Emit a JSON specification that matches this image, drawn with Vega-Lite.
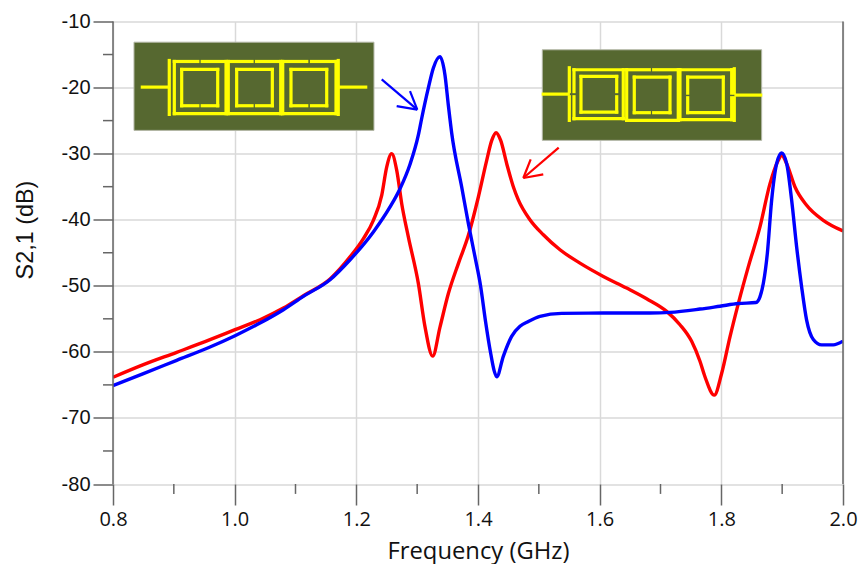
{"$schema":"https://vega.github.io/schema/vega-lite/v6.json","width":730,"height":462.5,"autosize":"none","padding":{"left":113,"top":21.5,"right":20,"bottom":80},"background":"white","config":{"view":{"stroke":null}},
"datasets":{
"red":[{"f":0.8,"s":-63.85},{"f":0.85,"s":-61.94},{"f":0.9047,"s":-60.07},{"f":0.9595,"s":-58.16},{"f":1.0006,"s":-56.64},{"f":1.0417,"s":-55.13},{"f":1.0801,"s":-53.37},{"f":1.113,"s":-51.5},{"f":1.1568,"s":-48.98},{"f":1.1896,"s":-45.63},{"f":1.2116,"s":-42.86},{"f":1.228,"s":-40.09},{"f":1.2417,"s":-36.31},{"f":1.2499,"s":-32.03},{"f":1.2581,"s":-30},{"f":1.2664,"s":-32.53},{"f":1.2746,"s":-37.57},{"f":1.2855,"s":-42.61},{"f":1.302,"s":-49.67},{"f":1.3129,"s":-56.22},{"f":1.3255,"s":-60.65},{"f":1.3376,"s":-56.22},{"f":1.3513,"s":-51.18},{"f":1.3677,"s":-46.64},{"f":1.3842,"s":-42.36},{"f":1.4006,"s":-36.56},{"f":1.4143,"s":-31.02},{"f":1.4226,"s":-28},{"f":1.4297,"s":-26.83},{"f":1.4373,"s":-28},{"f":1.4472,"s":-31.52},{"f":1.4582,"s":-35.05},{"f":1.4663,"s":-36.99},{"f":1.4854,"s":-40},{"f":1.5074,"s":-42.28},{"f":1.5348,"s":-44.55},{"f":1.5676,"s":-46.57},{"f":1.606,"s":-48.58},{"f":1.6444,"s":-50.35},{"f":1.6772,"s":-51.96},{"f":1.7101,"s":-53.87},{"f":1.732,"s":-55.89},{"f":1.7512,"s":-58.41},{"f":1.7649,"s":-61.43},{"f":1.7731,"s":-63.77},{"f":1.7884,"s":-66.55},{"f":1.8005,"s":-63.27},{"f":1.8142,"s":-57.73},{"f":1.8279,"s":-52.69},{"f":1.8443,"s":-47.14},{"f":1.8635,"s":-41.09},{"f":1.88,"s":-34.54},{"f":1.8937,"s":-31.01},{"f":1.8991,"s":-30.26},{"f":1.9074,"s":-31.52},{"f":1.9211,"s":-35.05},{"f":1.9402,"s":-37.82},{"f":1.9676,"s":-40.09},{"f":2.0,"s":-41.7}],
"blue":[{"f":0.8,"s":-65.11},{"f":0.85,"s":-63.3},{"f":0.9047,"s":-61.28},{"f":0.9595,"s":-59.26},{"f":1.0006,"s":-57.55},{"f":1.0417,"s":-55.64},{"f":1.0801,"s":-53.62},{"f":1.113,"s":-51.6},{"f":1.1568,"s":-49.08},{"f":1.1897,"s":-46.06},{"f":1.228,"s":-41.85},{"f":1.2554,"s":-38.07},{"f":1.2718,"s":-35.3},{"f":1.2883,"s":-31.6},{"f":1.3019,"s":-27.2},{"f":1.3075,"s":-24.64},{"f":1.3183,"s":-20.1},{"f":1.3265,"s":-17.08},{"f":1.3375,"s":-15.32},{"f":1.3457,"s":-18.09},{"f":1.3512,"s":-22.63},{"f":1.3568,"s":-26.9},{"f":1.3732,"s":-35.05},{"f":1.3842,"s":-40.59},{"f":1.3951,"s":-45.63},{"f":1.4045,"s":-50.17},{"f":1.4121,"s":-55.2},{"f":1.4209,"s":-60.25},{"f":1.4264,"s":-62.8},{"f":1.4308,"s":-63.78},{"f":1.4416,"s":-60.68},{"f":1.4553,"s":-57.65},{"f":1.469,"s":-56.14},{"f":1.4827,"s":-55.4},{"f":1.5019,"s":-54.63},{"f":1.5375,"s":-54.18},{"f":1.606,"s":-54.13},{"f":1.6827,"s":-54.13},{"f":1.7156,"s":-54.03},{"f":1.7649,"s":-53.52},{"f":1.7978,"s":-53.09},{"f":1.8279,"s":-52.69},{"f":1.8569,"s":-52.53},{"f":1.8635,"s":-51.68},{"f":1.869,"s":-49.66},{"f":1.8756,"s":-45.13},{"f":1.8827,"s":-37.06},{"f":1.8909,"s":-31.52},{"f":1.8991,"s":-29.9},{"f":1.9074,"s":-31.52},{"f":1.9156,"s":-37.06},{"f":1.9238,"s":-44.12},{"f":1.932,"s":-50.17},{"f":1.9402,"s":-55.2},{"f":1.9512,"s":-58.13},{"f":1.9649,"s":-58.94},{"f":1.9841,"s":-58.94},{"f":2.0,"s":-58.38}],
"frame":[{"x":0.8,"x2":0.8,"y":-80,"y2":-10},{"x":2.0,"x2":2.0,"y":-80,"y2":-10},
{"x":0.9,"x2":0.9,"y":-80,"y2":-81.5},{"x":1.1,"x2":1.1,"y":-80,"y2":-81.5},{"x":1.3,"x2":1.3,"y":-80,"y2":-81.5},{"x":1.5,"x2":1.5,"y":-80,"y2":-81.5},{"x":1.7,"x2":1.7,"y":-80,"y2":-81.5},{"x":1.9,"x2":1.9,"y":-80,"y2":-81.5},
{"x":0.8,"x2":0.7836,"y":-15,"y2":-15},{"x":0.8,"x2":0.7836,"y":-25,"y2":-25},{"x":0.8,"x2":0.7836,"y":-35,"y2":-35},{"x":0.8,"x2":0.7836,"y":-45,"y2":-45},{"x":0.8,"x2":0.7836,"y":-55,"y2":-55},{"x":0.8,"x2":0.7836,"y":-65,"y2":-65},{"x":0.8,"x2":0.7836,"y":-75,"y2":-75}],
"boards":[{"x":0.8345,"x2":1.229,"y":-13.13,"y2":-26.48},{"x":1.5057,"x2":1.8663,"y":-14.28,"y2":-27.99}],
"copper":[
{"x":0.8482,"x2":0.8909,"y":-19.93,"y2":-19.93},{"x":1.1731,"x2":1.2154,"y":-19.93,"y2":-19.93},{"x":0.8925,"x2":0.8925,"y":-15.9,"y2":-24.06},{"x":1.1703,"x2":1.1703,"y":-15.9,"y2":-24.06},
{"x":0.9008,"x2":0.9394,"y":-16.05,"y2":-16.05},{"x":0.9467,"x2":0.9858,"y":-16.05,"y2":-16.05},{"x":0.9008,"x2":0.9008,"y":-16.05,"y2":-23.95},{"x":0.9858,"x2":0.9858,"y":-16.05,"y2":-23.95},{"x":0.9008,"x2":0.9858,"y":-23.95,"y2":-23.95},
{"x":0.9129,"x2":0.9394,"y":-22.75,"y2":-22.75},{"x":0.9467,"x2":0.9721,"y":-22.75,"y2":-22.75},{"x":0.9129,"x2":0.9129,"y":-17.26,"y2":-22.75},{"x":0.9721,"x2":0.9721,"y":-17.26,"y2":-22.75},{"x":0.9129,"x2":0.9721,"y":-17.26,"y2":-17.26},
{"x":0.9895,"x2":1.0286,"y":-16.05,"y2":-16.05},{"x":1.0359,"x2":1.0757,"y":-16.05,"y2":-16.05},{"x":0.9895,"x2":0.9895,"y":-16.05,"y2":-23.95},{"x":1.0757,"x2":1.0757,"y":-16.05,"y2":-23.95},{"x":0.9895,"x2":1.0757,"y":-23.95,"y2":-23.95},
{"x":1.0033,"x2":1.0286,"y":-22.75,"y2":-22.75},{"x":1.0359,"x2":1.0619,"y":-22.75,"y2":-22.75},{"x":1.0033,"x2":1.0033,"y":-17.26,"y2":-22.75},{"x":1.0619,"x2":1.0619,"y":-17.26,"y2":-22.75},{"x":1.0033,"x2":1.0619,"y":-17.26,"y2":-17.26},
{"x":1.079,"x2":1.1185,"y":-16.05,"y2":-16.05},{"x":1.1263,"x2":1.1666,"y":-16.05,"y2":-16.05},{"x":1.079,"x2":1.079,"y":-16.05,"y2":-23.95},{"x":1.1666,"x2":1.1666,"y":-16.05,"y2":-23.95},{"x":1.079,"x2":1.1666,"y":-23.95,"y2":-23.95},
{"x":1.0926,"x2":1.1185,"y":-22.75,"y2":-22.75},{"x":1.1263,"x2":1.1513,"y":-22.75,"y2":-22.75},{"x":1.0926,"x2":1.0926,"y":-17.26,"y2":-22.75},{"x":1.1513,"x2":1.1513,"y":-17.26,"y2":-22.75},{"x":1.0926,"x2":1.1513,"y":-17.26,"y2":-17.26},
{"x":1.5073,"x2":1.5484,"y":-20.99,"y2":-20.99},{"x":1.8241,"x2":1.8647,"y":-21.14,"y2":-21.14},{"x":1.5501,"x2":1.5501,"y":-17,"y2":-20.61},{"x":1.5501,"x2":1.5501,"y":-21.39,"y2":-24.97},{"x":1.8213,"x2":1.8213,"y":-17.15,"y2":-20.84},{"x":1.8213,"x2":1.8213,"y":-21.54,"y2":-24.97},
{"x":1.5578,"x2":1.6388,"y":-17.3,"y2":-17.3},{"x":1.5578,"x2":1.6388,"y":-24.71,"y2":-24.71},{"x":1.6388,"x2":1.6388,"y":-17.3,"y2":-24.71},{"x":1.5578,"x2":1.5578,"y":-17.3,"y2":-20.61},{"x":1.5578,"x2":1.5578,"y":-21.39,"y2":-24.71},
{"x":1.5693,"x2":1.628,"y":-18.32,"y2":-18.32},{"x":1.5693,"x2":1.628,"y":-23.71,"y2":-23.71},{"x":1.5693,"x2":1.5693,"y":-18.32,"y2":-23.71},{"x":1.628,"x2":1.628,"y":-18.32,"y2":-20.61},{"x":1.628,"x2":1.628,"y":-21.39,"y2":-23.71},
{"x":1.6444,"x2":1.6816,"y":-17.3,"y2":-17.3},{"x":1.6888,"x2":1.7292,"y":-17.3,"y2":-17.3},{"x":1.6444,"x2":1.7292,"y":-24.97,"y2":-24.97},{"x":1.6444,"x2":1.6444,"y":-17.3,"y2":-24.97},{"x":1.7292,"x2":1.7292,"y":-17.3,"y2":-24.97},
{"x":1.6569,"x2":1.7156,"y":-18.42,"y2":-18.42},{"x":1.6569,"x2":1.6816,"y":-23.8,"y2":-23.8},{"x":1.6888,"x2":1.7156,"y":-23.8,"y2":-23.8},{"x":1.6569,"x2":1.6569,"y":-18.42,"y2":-23.8},{"x":1.7156,"x2":1.7156,"y":-18.42,"y2":-23.8},
{"x":1.732,"x2":1.817,"y":-17.3,"y2":-17.3},{"x":1.732,"x2":1.817,"y":-24.86,"y2":-24.86},{"x":1.732,"x2":1.732,"y":-17.3,"y2":-24.86},{"x":1.817,"x2":1.817,"y":-17.3,"y2":-20.84},{"x":1.817,"x2":1.817,"y":-21.54,"y2":-24.86},
{"x":1.7447,"x2":1.8032,"y":-18.42,"y2":-18.42},{"x":1.7447,"x2":1.8032,"y":-23.8,"y2":-23.8},{"x":1.8032,"x2":1.8032,"y":-18.42,"y2":-23.8},{"x":1.7447,"x2":1.7447,"y":-18.42,"y2":-20.84},{"x":1.7447,"x2":1.7447,"y":-21.54,"y2":-23.8}],
"blueArrow":[{"x":1.2417,"x2":1.3002,"y":-18.77,"y2":-23.35},{"x":1.2882,"x2":1.3002,"y":-20.54,"y2":-23.35},{"x":1.2663,"x2":1.3002,"y":-22.81,"y2":-23.35}],
"redArrow":[{"x":1.5327,"x2":1.4745,"y":-29.1,"y2":-33.69},{"x":1.4866,"x2":1.4745,"y":-30.86,"y2":-33.69},{"x":1.5073,"x2":1.4745,"y":-33.13,"y2":-33.69}]
},
"layer":[
{"data":{"name":"red"},"mark":{"type":"line","color":"#ff0000","strokeWidth":3.4,"interpolate":"monotone","clip":true},
"encoding":{
"x":{"field":"f","type":"quantitative","scale":{"domain":[0.8,2.0],"nice":false,"zero":false},
"axis":{"title":"Frequency (GHz)","values":[0.8,1.0,1.2,1.4,1.6,1.8,2.0],"format":".1f","labelFlush":false,"labelOverlap":false,"domain":false,"tickSize":21,"tickColor":"#666666","tickWidth":1.5,"grid":true,"gridColor":"#d9d9d9","gridWidth":1.5,"labelFont":"Open Sans","labelFontSize":20,"labelColor":"#111111","labelPadding":4,"titleFont":"Open Sans","titleFontSize":23.8,"titleFontWeight":"normal","titleColor":"#111111","titleY":74,"titleBaseline":"alphabetic"}},
"y":{"field":"s","type":"quantitative","scale":{"domain":[-80,-10],"nice":false,"zero":false},
"axis":{"title":"S2,1 (dB)","values":[-80,-70,-60,-50,-40,-30,-20,-10],"labelExpr":"'-' + abs(datum.value)","labelFlush":false,"labelOverlap":false,"domain":false,"tickSize":20,"tickColor":"#666666","tickWidth":1.5,"grid":true,"gridColor":"#d9d9d9","gridWidth":1.5,"labelFont":"Liberation Sans","labelFontSize":20,"labelColor":"#111111","labelPadding":3,"titleFont":"Liberation Sans","titleFontSize":23.4,"titleFontWeight":"normal","titleColor":"#111111","titleX":-76,"titleY":208}}}},
{"data":{"name":"blue"},"mark":{"type":"line","color":"#0000ff","strokeWidth":3.4,"interpolate":"monotone","clip":true},
"encoding":{"x":{"field":"f","type":"quantitative"},"y":{"field":"s","type":"quantitative"}}},
{"data":{"name":"frame"},"mark":{"type":"rule","color":"#666666","strokeWidth":1.5},
"encoding":{"x":{"field":"x","type":"quantitative"},"x2":{"field":"x2"},"y":{"field":"y","type":"quantitative"},"y2":{"field":"y2"}}},
{"data":{"name":"boards"},"mark":{"type":"rect","fill":"#566830","stroke":"#b4b8a8","strokeWidth":1},
"encoding":{"x":{"field":"x","type":"quantitative"},"x2":{"field":"x2"},"y":{"field":"y","type":"quantitative"},"y2":{"field":"y2"}}},
{"data":{"name":"copper"},"mark":{"type":"rule","color":"#ffff00","strokeWidth":3.2,"strokeCap":"square"},
"encoding":{"x":{"field":"x","type":"quantitative"},"x2":{"field":"x2"},"y":{"field":"y","type":"quantitative"},"y2":{"field":"y2"}}},
{"data":{"name":"blueArrow"},"mark":{"type":"rule","color":"#0000ff","strokeWidth":2.2},
"encoding":{"x":{"field":"x","type":"quantitative"},"x2":{"field":"x2"},"y":{"field":"y","type":"quantitative"},"y2":{"field":"y2"}}},
{"data":{"name":"redArrow"},"mark":{"type":"rule","color":"#ff0000","strokeWidth":2.2},
"encoding":{"x":{"field":"x","type":"quantitative"},"x2":{"field":"x2"},"y":{"field":"y","type":"quantitative"},"y2":{"field":"y2"}}}
]}
